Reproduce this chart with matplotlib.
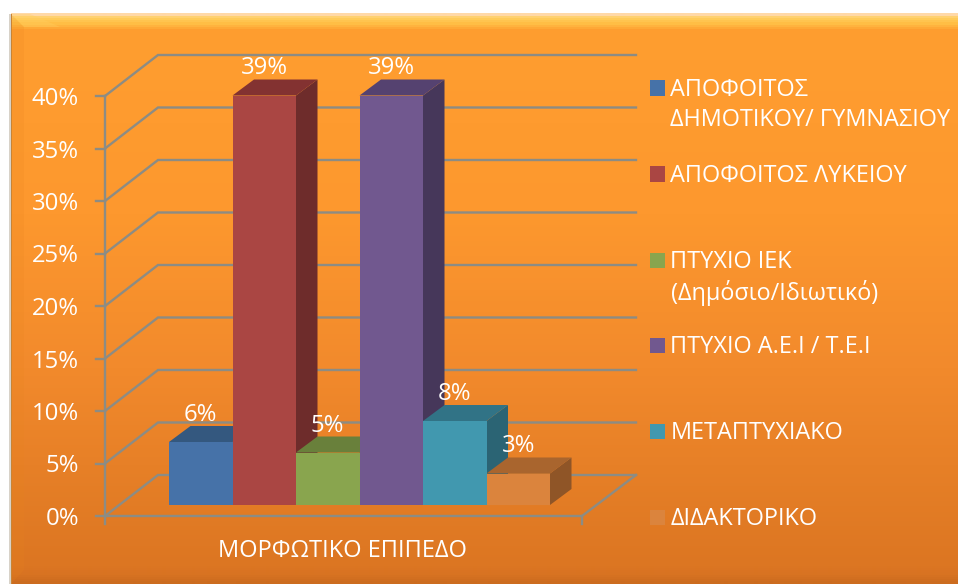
import numpy as np
import matplotlib
matplotlib.use("Agg")
import matplotlib.pyplot as plt
from matplotlib.patches import Polygon, Rectangle
from matplotlib.colors import LinearSegmentedColormap

# ---- data ----
categories = ["ΑΠΟΦΟΙΤΟΣ\nΔΗΜΟΤΙΚΟΥ/ ΓΥΜΝΑΣΙΟΥ", "ΑΠΟΦΟΙΤΟΣ ΛΥΚΕΙΟΥ",
              "ΠΤΥΧΙΟ ΙΕΚ\n(Δημόσιο/Ιδιωτικό)", "ΠΤΥΧΙΟ Α.Ε.Ι / Τ.Ε.Ι",
              "ΜΕΤΑΠΤΥΧΙΑΚΟ", "ΔΙΔΑΚΤΟΡΙΚΟ"]
values = [6, 39, 5, 39, 8, 3]
value_labels = ["6%", "39%", "5%", "39%", "8%", "3%"]
y_ticks = [0, 5, 10, 15, 20, 25, 30, 35, 40]
y_tick_labels = ["0%", "5%", "10%", "15%", "20%", "25%", "30%", "35%", "40%"]
x_label = "ΜΟΡΦΩΤΙΚΟ ΕΠΙΠΕΔΟ"

# ---- styles ----
front = ["#4672A8", "#AA4643", "#89A54E", "#71588F", "#4198AF", "#DB843D"]
side = ["#2F4E75", "#6E2C2B", "#5C7034", "#46375A", "#2B6474", "#8F5527"]
top = ["#34587F", "#833231", "#69803B", "#554270", "#317386", "#A9652E"]
GRID = "#8C8C84"
W, H = 958, 584
PX, PY = 63.5, 10.5        # pixels per category, pixels per percent
X0, Y0 = 169, 505          # pixel position of data origin
DX, DY = 21.5 / PX, 16 / PY      # bar depth
WX, WY = 53 / PX, 41 / PY        # wall / floor depth
FX0, FX1 = (105 - X0) / PX, (582 - X0) / PX   # front edge of floor
BACK = (636 - X0) / PX
FO = -11 / PY              # front plane offset below bar baseline
FS = 17.2

plt.rcParams['font.family'] = ['Open Sans', 'DejaVu Sans']
fig = plt.figure(figsize=(W / 100, H / 100), dpi=100, facecolor="white")
ax = fig.add_axes([0, 0, 1, 1])
ax.set_xlim(-X0 / PX, (W - X0) / PX)
ax.set_ylim((Y0 - H) / PY, Y0 / PY)
ax.axis("off")


def px(x, y):
    return (x - X0) / PX, (Y0 - y) / PY


# background panel with vertical gradient
cmap = LinearSegmentedColormap.from_list("bg", [
    (0.0, "#FFD9A8"), (0.005, "#FFD060"), (0.016, "#FFBE45"), (0.027, "#FF9E30"),
    (0.35, "#FD982E"), (0.62, "#F28A2C"), (0.97, "#DC7622"), (0.985, "#D87322"), (1, "#CC6C1F")])
x_l, y_t = px(11, 13)
x_r, y_b = px(958, 584)
grad = np.linspace(0, 1, 571).reshape(-1, 1)
ax.imshow(grad, cmap=cmap, extent=(x_l, x_r, y_b, y_t), aspect="auto", zorder=0,
          interpolation="bilinear")
ax.set_xlim(-X0 / PX, (W - X0) / PX)
ax.set_ylim((Y0 - H) / PY, Y0 / PY)
# left bevel and shadow
ax.add_patch(Polygon([px(11, 14), px(24, 27), px(24, 570), px(11, 584)],
                     closed=True, fc="#E8841F", alpha=0.18, ec="none", zorder=1))
ax.add_patch(Polygon([px(11, 14), px(24, 27), px(60, 27), px(30, 14)],
                     closed=True, fc="#FFCF60", alpha=0.35, ec="none", zorder=1))
ax.add_patch(Rectangle(px(9, 584), 2 / PX, 570 / PY, fc="#D8D2C8", ec="none", zorder=1))
ax.add_patch(Rectangle(px(11, 584), 1 / PX, 570 / PY, fc="#C98435", ec="none", zorder=1))

# walls and floor
lw = 1.7
for t, lab in zip(y_ticks, y_tick_labels):
    yf = t + FO
    xs = [FX0, FX0 + WX, BACK]
    ys = [yf, yf + WY, yf + WY]
    ax.plot(xs, ys, color=GRID, lw=lw, zorder=2, solid_joinstyle="miter")
    ax.plot([FX0 - 9 / PX, FX0], [yf, yf], color=GRID, lw=lw, zorder=2)
    ax.text(FX0 - 26 / PX, yf - 3 / PY, lab, color="white", fontsize=FS,
            ha="right", va="center", zorder=5)
ax.plot([FX0, FX0], [FO - 8 / PY, y_ticks[-1] + FO], color=GRID, lw=lw, zorder=2)
ax.plot([FX0, FX1, BACK], [FO, FO, FO + WY], color=GRID, lw=lw, zorder=2)
ax.plot([FX1, FX1], [FO, FO - 8 / PY], color=GRID, lw=lw, zorder=2)

# 3D bars
for i, v in enumerate(values):
    ax.add_patch(Polygon([(i + 1, 0), (i + 1 + DX, DY), (i + 1 + DX, v + DY), (i + 1, v)],
                         closed=True, fc=side[i], ec="none", zorder=3 + i * 0.01))
    ax.add_patch(Polygon([(i, v), (i + DX, v + DY), (i + 1 + DX, v + DY), (i + 1, v)],
                         closed=True, fc=top[i], ec="none", zorder=3 + i * 0.01))
for i, v in enumerate(values):
    ax.add_patch(Rectangle((i, 0), 1, v, fc=front[i], ec="none", zorder=3.5))
    ax.text(i + 0.5, v + 27 / PY, value_labels[i], color="white", fontsize=FS,
            ha="center", va="center", zorder=6)

ax.text(*px(343, 551), x_label, color="white", fontsize=17, ha="center", va="center", zorder=6)

# legend
leg_y = [88, 174, 260, 345, 431, 517]
for i, (c, y) in enumerate(zip(categories, leg_y)):
    ax.add_patch(Rectangle(px(650, y + 7.5), 15 / PX, 15 / PY, fc=front[i], ec="none", zorder=6))
    ax.text(*px(670.5, y - 10), c, color="white", fontsize=FS - 0.3, ha="left", va="top",
            linespacing=1.32, zorder=6)

fig.savefig("out.png", dpi=100, facecolor="white")
